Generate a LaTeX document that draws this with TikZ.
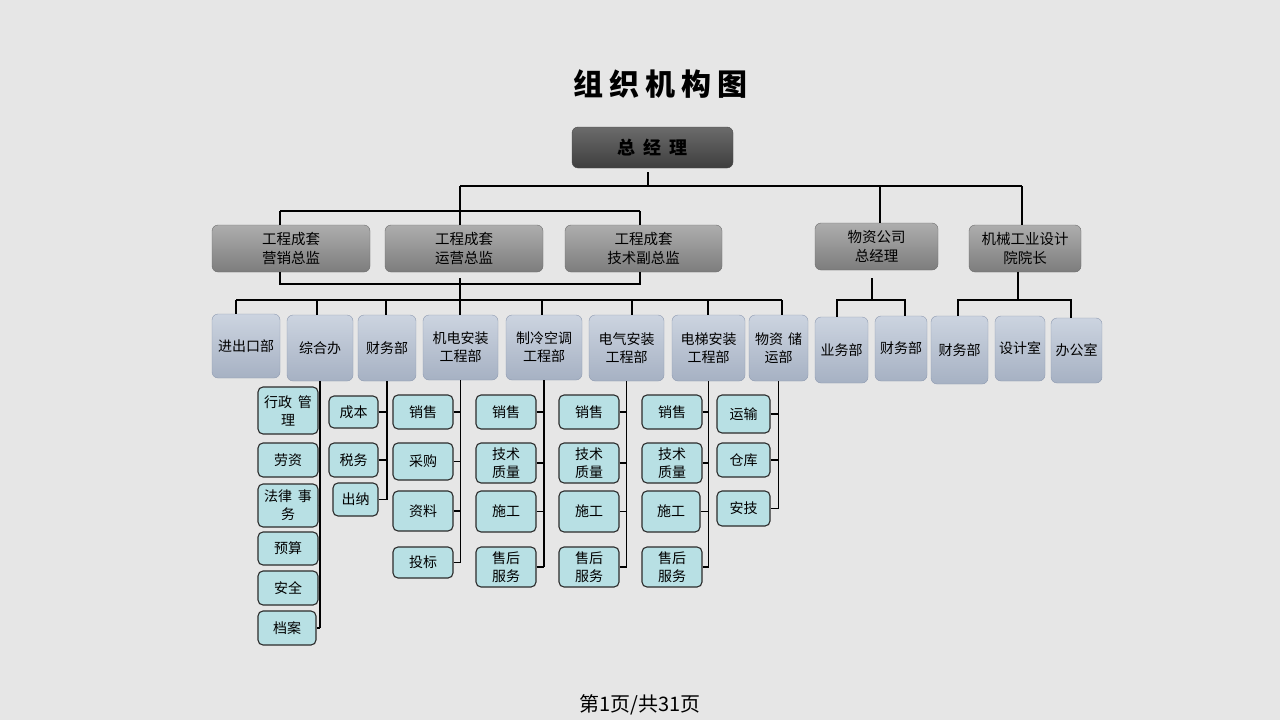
\documentclass[tikz,border=0pt]{standalone}
\usepackage{fontspec}
\setmainfont{Noto Sans CJK SC}
\definecolor{bg}{HTML}{E6E6E6}
\definecolor{gmtop}{HTML}{6B6B6B}
\definecolor{gmbot}{HTML}{3E3E3E}
\definecolor{gmdraw}{HTML}{4A4A4A}
\definecolor{lvtop}{HTML}{ADADAD}
\definecolor{lvbot}{HTML}{7D7D7D}
\definecolor{lvdraw}{HTML}{6E6E6E}
\definecolor{dptop}{HTML}{CCD4E0}
\definecolor{dpbot}{HTML}{A6B1C3}
\definecolor{dpdraw}{HTML}{8E9AB0}
\definecolor{sbfill}{HTML}{B8E0E4}
\definecolor{sbdraw}{HTML}{2B2B2B}
\newcommand\obox[7]{\node[#1,minimum width={#4-#2},minimum height={#5-#3}] (#6) at ({(#2+#4)/2},{(#3+#5)/2}) {#7};}
\begin{document}
\begin{tikzpicture}[x=1pt,y=-1pt,
  box/.style={rounded corners=6pt, inner sep=0pt, align=center, font=\fontsize{14}{18}\selectfont},
  gmbox/.style={box, top color=gmtop, bottom color=gmbot, draw=gmdraw, font=\fontsize{18}{22}\selectfont\bfseries},
  lvbox/.style={box, top color=lvtop, bottom color=lvbot, draw=lvdraw, font=\fontsize{14.5}{19}\selectfont},
  dpbox/.style={box, top color=dptop, bottom color=dpbot, draw=dpdraw},
  sbbox/.style={box, fill=sbfill, draw=sbdraw, line width=1.1pt, rounded corners=5pt},
  link/.style={draw=black, line width=1.35pt},
  titletext/.style={font=\fontsize{30}{34}\selectfont\bfseries},
  foottext/.style={font=\fontsize{20}{24}\selectfont}]
\useasboundingbox[fill=bg] (0,0) rectangle (1280,720);

% title and footer
\node[titletext] (title) at (660,84) {组\hspace{6pt}织\hspace{6pt}机\hspace{6pt}构\hspace{6pt}图};
\node[foottext] (foot) at (640,705) {第1页/共31页};

% top levels
\obox{gmbox}{572}{127}{733}{168}{gm}{总\hspace{8pt}经\hspace{8pt}理}
\obox{lvbox}{212}{225}{370}{272}{la}{工程成套\\营销总监}
\obox{lvbox}{385}{225}{543}{272}{lb}{工程成套\\运营总监}
\obox{lvbox}{565}{225}{722}{272}{lc}{工程成套\\技术副总监}
\obox{lvbox}{815}{223}{938}{270}{wz}{物资公司\\总经理}
\obox{lvbox}{969}{225}{1081}{272}{hd}{机械工业设计\\院院长}

% departments
\obox{dpbox}{212}{314}{280}{378}{d1}{进出口部}
\obox{dpbox}{287}{315}{353}{381}{d2}{综合办}
\obox{dpbox}{358}{315}{416}{381}{d3}{财务部}
\obox{dpbox}{423}{315}{498}{380}{d4}{机电安装\\工程部}
\obox{dpbox}{506}{315}{582}{380}{d5}{制冷空调\\工程部}
\obox{dpbox}{589}{315}{664}{381}{d6}{电气安装\\工程部}
\obox{dpbox}{672}{315}{745}{381}{d7}{电梯安装\\工程部}
\obox{dpbox}{749}{315}{808}{381}{d8}{物资\hspace{5pt}储\\运部}
\obox{dpbox}{815}{317}{868}{383}{e1}{业务部}
\obox{dpbox}{875}{316}{927}{381}{e2}{财务部}
\obox{dpbox}{931}{316}{988}{384}{f1}{财务部}
\obox{dpbox}{995}{316}{1045}{381}{f2}{设计室}
\obox{dpbox}{1051}{318}{1102}{383}{f3}{办公室}

% sub items: zonghe
\obox{sbbox}{258}{387}{318}{434}{s2a}{行政\hspace{6pt}管\\理}
\obox{sbbox}{258}{443}{318}{477}{s2b}{劳资}
\obox{sbbox}{258}{484}{318}{527}{s2c}{法律\hspace{6pt}事\\务}
\obox{sbbox}{258}{532}{318}{565}{s2d}{预算}
\obox{sbbox}{258}{571}{318}{605}{s2e}{安全}
\obox{sbbox}{258}{611}{316}{645}{s2f}{档案}
% caiwu
\obox{sbbox}{329}{396}{378}{428}{s3a}{成本}
\obox{sbbox}{329}{443}{378}{477}{s3b}{税务}
\obox{sbbox}{333}{483}{378}{516}{s3c}{出纳}
% jidian
\obox{sbbox}{393}{395}{453}{429}{s4a}{销售}
\obox{sbbox}{393}{443}{453}{480}{s4b}{采购}
\obox{sbbox}{393}{491}{453}{531}{s4c}{资料}
\obox{sbbox}{393}{547}{453}{578}{s4d}{投标}
% zhileng
\obox{sbbox}{476}{395}{536}{429}{s5a}{销售}
\obox{sbbox}{476}{443}{536}{483}{s5b}{技术\\质量}
\obox{sbbox}{476}{491}{536}{532}{s5c}{施工}
\obox{sbbox}{476}{547}{536}{587}{s5d}{售后\\服务}
% dianqi
\obox{sbbox}{559}{395}{619}{429}{s6a}{销售}
\obox{sbbox}{559}{443}{619}{483}{s6b}{技术\\质量}
\obox{sbbox}{559}{491}{619}{532}{s6c}{施工}
\obox{sbbox}{559}{547}{619}{587}{s6d}{售后\\服务}
% dianti
\obox{sbbox}{642}{395}{702}{429}{s7a}{销售}
\obox{sbbox}{642}{443}{702}{483}{s7b}{技术\\质量}
\obox{sbbox}{642}{491}{700}{532}{s7c}{施工}
\obox{sbbox}{642}{547}{702}{587}{s7d}{售后\\服务}
% wuzi chuyun
\obox{sbbox}{717}{395}{770}{433}{s8a}{运输}
\obox{sbbox}{717}{443}{770}{477}{s8b}{仓库}
\obox{sbbox}{717}{491}{770}{526}{s8c}{安技}

% ---- connectors ----
\coordinate (j0) at (648,186);
\coordinate (j0t) at (648,172);
\coordinate (b1L) at (460,186);
\coordinate (b1R) at (1022,186);
\coordinate (j1) at (880,186);
\coordinate (b2) at (460,211);
\coordinate (b2L) at (280,211);
\coordinate (b2R) at (640,211);
\draw[link] (j0t) -- (j0);
\draw[link] (b1L) -- (b1R);
\draw[link] (b1L) -- (b2);
\draw[link] (j1) -- (j1 |- wz.north);
\draw[link] (b1R) -- (b1R |- hd.north);
\draw[link] (b2L) -- (b2R);
\draw[link] (b2L) -- (b2L |- la.north);
\draw[link] (b2) -- (b2 |- lb.north);
\draw[link] (b2R) -- (b2R |- lc.north);

% bracket below level 2
\coordinate (b3) at (460,284);
\coordinate (b3L) at (280,284);
\coordinate (b3R) at (640,284);
\coordinate (b3T) at (460,278);
\draw[link] (b3L |- la.south) -- (b3L) -- (b3R) -- (b3R |- lc.south);
\draw[link] (b3T) -- (b3T |- d4.north);

% department bus
\coordinate (b4L) at (236,300);
\coordinate (b4R) at (782,300);
\draw[link] (b4L) -- (b4R);
\foreach \xx/\dd in {236/d1,317/d2,386/d3,542/d5,632/d6,708/d7,782/d8}{
  \draw[link] (\xx,300) -- (\xx,300 |- \dd.north);
}

% right groups
\coordinate (c1) at (872,278);
\coordinate (c1b) at (872,300);
\coordinate (c1L) at (837,300);
\coordinate (c1R) at (905,300);
\draw[link] (c1) -- (c1b);
\draw[link] (c1L |- e1.north) -- (c1L) -- (c1R) -- (c1R |- e2.north);
\coordinate (c2b) at (1018,300);
\coordinate (c2L) at (958,300);
\coordinate (c2R) at (1071,300);
\draw[link] (c2b |- hd.south) -- (c2b);
\draw[link] (c2L |- f1.north) -- (c2L) -- (c2R) -- (c2R |- f3.north);

% sub item connectors
\draw[link] (d2.south) -- (d2.south |- s2f.east);
\foreach \s in {s2a,s2b,s2c,s2d,s2e,s2f}{\draw[link] (\s.east) -- (\s.east -| d2.south);}
\draw[link] (d3.south) -- (d3.south |- s3c.east);
\foreach \s in {s3a,s3b,s3c}{\draw[link] (\s.east) -- (\s.east -| d3.south);}
\draw[link] (d4.south) -- (d4.south |- s4d.east);
\foreach \s in {s4a,s4b,s4c,s4d}{\draw[link] (\s.east) -- (\s.east -| d4.south);}
\draw[link] (d5.south) -- (d5.south |- s5d.east);
\foreach \s in {s5a,s5b,s5c,s5d}{\draw[link] (\s.east) -- (\s.east -| d5.south);}
\draw[link] (d6.south) -- (d6.south |- s6d.east);
\foreach \s in {s6a,s6b,s6c,s6d}{\draw[link] (\s.east) -- (\s.east -| d6.south);}
\draw[link] (d7.south) -- (d7.south |- s7d.east);
\foreach \s in {s7a,s7b,s7c,s7d}{\draw[link] (\s.east) -- (\s.east -| d7.south);}
\draw[link] (d8.south) -- (d8.south |- s8c.east);
\foreach \s in {s8a,s8b,s8c}{\draw[link] (\s.east) -- (\s.east -| d8.south);}
\end{tikzpicture}
\end{document}
